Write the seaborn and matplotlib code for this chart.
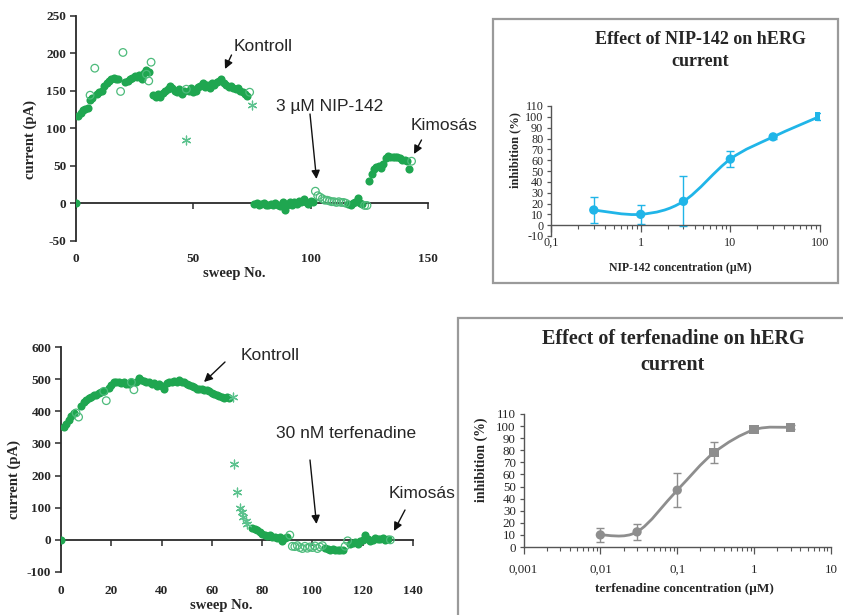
import numpy as np
import matplotlib
matplotlib.use("Agg")
import matplotlib.pyplot as plt
from matplotlib.path import Path
from matplotlib.patches import PathPatch, Rectangle
from matplotlib.ticker import NullFormatter
import seaborn as sns

# ---------------- data ----------------
# Top-left: NIP-142 experiment (sweep number vs current, pA)
tl_fill_x = [0, 1, 2, 3, 4, 5, 6, 7, 9, 10, 11, 12, 13, 14, 15, 16, 17, 18,
             21, 22, 23, 24, 25, 26, 27, 28, 29, 30, 31,
             33, 34, 35, 36, 37, 38, 39, 40, 41, 42, 43, 44, 45, 46, 48, 49, 50,
             51, 52, 53, 54, 55, 56, 57, 58, 59, 60, 61, 62, 63, 64, 65, 66, 67,
             68, 69, 70, 71, 72, 73,
             76, 77, 78, 79, 80, 81, 82, 83, 84, 85, 86, 87, 88, 89, 90, 91, 92,
             93, 94, 95, 96, 97, 98, 99, 100, 101, 116, 117, 118, 119, 120, 121, 122,
             125, 126, 127, 128, 129, 130, 131, 132, 133, 134, 135, 136, 137, 138,
             139, 140, 141, 142]
tl_fill_y = [0, 116, 120, 124, 126, 127, 137, 140, 145, 148, 150, 156, 160, 163, 166, 167, 165, 166,
             162, 163, 165, 167, 170, 168, 171, 165, 173, 177, 175,
             144, 142, 145, 141, 147, 150, 152, 156, 153, 150, 148, 152, 146, 150, 150, 153, 148,
             150, 155, 156, 160, 155, 158, 153, 160, 157, 161, 163, 165, 160, 158, 155, 156, 153,
             152, 153, 150, 148, 145, 143,
             -1, 0, -2, -1, 0, -2, -3, -1, -2, 0, -2, -4, 1, -9, -3, 1, -2,
             2, -1, 3, 1, 6, 2, -1, 3, 1, -1, -2, 0, 2, 7, 0, -1,
             29, 39, 45, 48, 50, 47, 52, 60, 63, 61, 62, 61, 62, 60,
             58, 57, 56, 46]
tl_open_x = [6, 8, 19, 20, 30, 31, 32, 47, 74, 102, 103, 104, 105, 106, 107, 108, 109,
             110, 111, 112, 113, 114, 115, 123, 124, 143]
tl_open_y = [144, 180, 149, 201, 172, 163, 188, 152, 148, 16, 10, 8, 6, 4, 4, 3, 2,
             2, 1, 2, 1, 1, 0, -3, -3, 56]
tl_star_x = [47, 75]
tl_star_y = [84, 131]

# Bottom-left: terfenadine experiment
bl_fill_x = [0, 1, 2, 3, 4, 5, 8, 9, 10, 11, 12, 13, 14, 15, 16, 17, 19, 20, 21, 22, 23,
             24, 25, 26, 27, 28, 30, 31, 32, 33, 34, 35, 36, 37, 38, 39, 40, 41, 42, 43,
             44, 45, 46, 47, 48, 49, 50, 51, 52, 53, 54, 55, 56, 57, 58, 59, 60, 61, 62,
             63, 64, 65, 66, 67,
             76, 77, 78, 79, 80, 81, 82, 83, 84, 85, 86, 87, 88, 89, 90,
             105, 106, 107, 108, 109, 110, 111, 112,
             115, 116, 117, 118, 119, 120, 121, 122, 123, 124, 125, 126, 127, 128, 129, 130]
bl_fill_y = [0, 350, 360, 372, 385, 395, 418, 428, 435, 440, 445, 450, 452, 456, 460, 462, 472, 482, 492, 490, 492,
             488, 490, 486, 485, 490, 492, 505, 498, 495, 490, 492, 485, 488, 480, 485, 478, 468, 488, 492,
             490, 494, 492, 498, 492, 490, 486, 482, 480, 475, 470, 468, 470, 465, 466, 462, 458, 455, 452,
             448, 445, 440, 445, 442,
             38, 35, 30, 25, 18, 15, 12, 14, 8, 10, 5, 8, -3, 6, 10,
             -26, -28, -30, -29, -30, -31, -33, -30,
             -12, -10, -6, -12, -4, 0, 16, 2, -2, 0, 5, 3, 2, 6, 1, 3]
bl_open_x = [6, 7, 17, 18, 28, 29, 91, 92, 93, 94, 95, 96, 97, 98, 99, 100, 101, 102,
             103, 104, 113, 114, 131]
bl_open_y = [395, 382, 462, 433, 490, 467, 15, -20, -21, -18, -24, -27, -20, -26, -22, -24, -19, -27,
             -22, -18, -20, -3, 0]
bl_star_x = [68.5, 69, 70, 71, 72, 72.5, 73.5, 74]
bl_star_y = [444, 236, 148, 99, 88, 72, 60, 50]

# Dose-response curves
nip_conc = [0.3, 1, 3, 10, 30, 100]
nip_inh = [14, 10, 22, 61, 81.5, 100.5]
nip_err = [12, 9, 23, 7.5, 2, 3]
nip_mark = ["o", "o", "o", "o", "o", "s"]

terf_conc = [0.01, 0.03, 0.1, 0.3, 1, 3]
terf_inh = [10, 12.5, 47, 78, 97, 99]
terf_err = [6, 6.3, 14, 8.5, 1.5, 1.5]
terf_mark = ["o", "o", "o", "s", "s", "s"]

tl_xticks = [0, 50, 100, 150]
tl_yticks = [-50, 0, 50, 100, 150, 200, 250]
bl_xticks = [0, 20, 40, 60, 80, 100, 120, 140]
bl_yticks = [-100, 0, 100, 200, 300, 400, 500, 600]
nip_xticks = [0.1, 1, 10, 100]
nip_xlabels = ["0,1", "1", "10", "100"]
nip_yticks = list(range(-10, 111, 10))
terf_xticks = [0.001, 0.01, 0.1, 1, 10]
terf_xlabels = ["0,001", "0,01", "0,1", "1", "10"]
terf_yticks = list(range(0, 111, 10))

# ---------------- style ----------------
sns.set_style("white")
plt.rcParams["font.family"] = ["Liberation Serif", "DejaVu Serif"]
SANS = ["Liberation Sans", "DejaVu Sans"]
G_FILL = "#1fa650"
G_OPEN = "#4dbb7b"
G_STAR = "#5cc28e"
CYAN = "#20b5e8"
GRAY = "#8e8e8e"

W, H = 843, 615
fig = plt.figure(figsize=(W / 100, H / 100), dpi=100)
fig.patch.set_facecolor("white")


def add_ax(x0, y0, x1, y1):
    return fig.add_axes([x0 / W, 1 - y1 / H, (x1 - x0) / W, (y1 - y0) / H])


def fx(x):
    return x / W


def fy(y):
    return 1 - y / H


def smooth_path(xs, ys):
    lx = np.log10(np.asarray(xs, float))
    p = np.column_stack([lx, np.asarray(ys, float)])
    n = len(p)
    verts = [p[0]]
    codes = [Path.MOVETO]
    for i in range(n - 1):
        p0 = p[i - 1] if i > 0 else p[i]
        p1, p2 = p[i], p[i + 1]
        p3 = p[i + 2] if i + 2 < n else p[i + 1]
        verts += [p1 + (p2 - p0) / 6, p2 - (p3 - p1) / 6, p2]
        codes += [Path.CURVE4] * 3
    v = np.array(verts)
    v[:, 0] = 10 ** v[:, 0]
    return Path(v, codes)


def sweep_axes(ax, xs_fill, ys_fill, xs_open, ys_open, xs_star, ys_star,
               xlim, ylim, xticks, yticks, lab_coords):
    sns.scatterplot(x=xs_fill, y=ys_fill, ax=ax, color=G_FILL, s=34, linewidth=0, marker="o", zorder=3)
    sns.scatterplot(x=xs_open, y=ys_open, ax=ax, s=30, marker="o", facecolor="none",
                    edgecolor=G_OPEN, linewidth=0.9, zorder=3)
    sns.scatterplot(x=xs_star, y=ys_star, ax=ax, color=G_STAR, s=40, marker=(6, 2, 0),
                    linewidth=0.9, zorder=3)
    ax.set_xlim(*xlim)
    ax.set_ylim(*ylim)
    for side in ["top", "right"]:
        ax.spines[side].set_visible(False)
    ax.spines["bottom"].set_position(("data", 0))
    for side in ["bottom", "left"]:
        ax.spines[side].set_color("#2a2a2a")
        ax.spines[side].set_linewidth(1.3)
    ax.set_yticks(yticks, labels=[str(t) for t in yticks], fontsize=9.5, fontweight="bold")
    ax.set_xticks(xticks)
    ax.tick_params(axis="x", labelbottom=False, direction="out", length=4, width=1.1, color="#2a2a2a")
    ax.tick_params(axis="y", direction="out", length=4, width=1.1, color="#2a2a2a", pad=3)
    ax.tick_params(left=True, bottom=True)
    sec = ax.secondary_xaxis("bottom")
    sec.spines["bottom"].set_visible(False)
    sec.set_xticks(xticks, labels=[str(t) for t in xticks], fontsize=9.5, fontweight="bold")
    sec.tick_params(length=0, pad=9)
    ax.set_ylabel("current (pA)", fontsize=10.5, fontweight="bold")
    ax.yaxis.set_label_coords(*lab_coords[0])
    ax.set_xlabel("sweep No.", fontsize=10.5, fontweight="bold")
    ax.xaxis.set_label_coords(*lab_coords[1])
    ax.set_facecolor("none")


# ---------------- top-left ----------------
ax1 = add_ax(76, 15.7, 428, 240.7)
sweep_axes(ax1, tl_fill_x, tl_fill_y, tl_open_x, tl_open_y, tl_star_x, tl_star_y,
           (0, 150), (-50, 250), tl_xticks, tl_yticks,
           ((-0.11, 0.45), (0.45, -0.115)))

# ---------------- bottom-left ----------------
ax3 = add_ax(61, 347, 413, 572)
sweep_axes(ax3, bl_fill_x, bl_fill_y, bl_open_x, bl_open_y, bl_star_x, bl_star_y,
           (0, 140), (-100, 600), bl_xticks, bl_yticks,
           ((-0.115, 0.41), (0.456, -0.118)))

# annotations (text + arrows)
def note(text, x, y):
    fig.text(fx(x), fy(y), text, family=SANS, fontsize=12.5, ha="left", va="center")


def arrow(x0, y0, x1, y1):
    fig.add_artist(matplotlib.patches.FancyArrowPatch(
        (fx(x0), fy(y0)), (fx(x1), fy(y1)), transform=fig.transFigure,
        arrowstyle="-|>,head_length=5,head_width=2.5", color="#111111", lw=1.0,
        shrinkA=0, shrinkB=0))


note("Kontroll", 234, 46.5)
arrow(231.5, 55, 225, 69)
note("3 \u00b5M NIP-142", 276, 106)
arrow(310, 114, 316.5, 179)
note("Kimos\u00e1s", 411, 125)
arrow(421.5, 140, 414, 154)

note("Kontroll", 241, 355)
arrow(225, 362, 204, 382)
note("30 nM terfenadine", 276, 433)
arrow(310, 460, 316.5, 524)
note("Kimos\u00e1s", 389, 493)
arrow(405, 510, 394, 531)

# ---------------- boxes ----------------
fig.add_artist(Rectangle((fx(493), fy(283)), fx(838) - fx(493), fy(19) - fy(283),
                         transform=fig.transFigure, fill=False, ec="#9a9a9a", lw=1.6))
fig.add_artist(Rectangle((fx(458), fy(640)), fx(870) - fx(458), fy(318) - fy(640),
                         transform=fig.transFigure, fill=False, ec="#9a9a9a", lw=1.6,
                         clip_on=False))


def dose_axes(ax, conc, inh, err, marks, color, xlim, ylim, xticks, xlabels, yticks,
              xlabel, tick_fs, lab_fs, zero_axis, lab_coords):
    ax.set_xscale("log")
    ax.add_patch(PathPatch(smooth_path(conc, inh), fill=False, ec=color, lw=2.0, zorder=2))
    ax.errorbar(conc, inh, yerr=err, fmt="none", ecolor=color, elinewidth=1.0, capsize=3,
                capthick=1.0, zorder=2)
    sns.scatterplot(x=conc, y=inh, style=marks, markers={"o": "o", "s": "s"}, ax=ax,
                    color=color, s=45, linewidth=0, legend=False, zorder=3)
    ax.set_xlim(*xlim)
    ax.set_ylim(*ylim)
    for side in ["top", "right"]:
        ax.spines[side].set_visible(False)
    for side in ["bottom", "left"]:
        ax.spines[side].set_color("#555555")
        ax.spines[side].set_linewidth(1.0)
    ax.set_yticks(yticks, labels=[str(t) for t in yticks], fontsize=tick_fs)
    ax.tick_params(axis="y", direction="out", length=3, width=0.9, color="#555555", pad=2.5, left=True)
    ax.tick_params(axis="x", which="both", direction="out", color="#555555", bottom=True)
    ax.tick_params(axis="x", which="major", length=5, width=0.9)
    ax.tick_params(axis="x", which="minor", length=3, width=0.8)
    ax.set_ylabel("inhibition (%)", fontsize=lab_fs, fontweight="bold")
    ax.yaxis.set_label_coords(*lab_coords[0])
    if zero_axis:
        ax.spines["bottom"].set_position(("data", 0))
        ax.set_xticks(xticks)
        ax.xaxis.set_minor_formatter(NullFormatter())
        ax.tick_params(axis="x", which="both", labelbottom=False)
        sec = ax.secondary_xaxis("bottom")
        sec.spines["bottom"].set_visible(False)
        sec.set_xticks(xticks, labels=xlabels, fontsize=tick_fs)
        sec.xaxis.set_minor_formatter(NullFormatter())
        sec.tick_params(which="both", length=0, pad=0.5)
    else:
        ax.set_xticks(xticks, labels=xlabels, fontsize=tick_fs)
        ax.xaxis.set_minor_formatter(NullFormatter())
        ax.tick_params(axis="x", which="major", pad=7)
    ax.set_xlabel(xlabel, fontsize=lab_fs - 0.5, fontweight="bold")
    ax.xaxis.set_label_coords(*lab_coords[1])
    ax.set_facecolor("none")


# ---------------- top-right ----------------
ax2 = add_ax(551, 106, 820, 236)
dose_axes(ax2, nip_conc, nip_inh, nip_err, nip_mark, CYAN, (0.1, 100), (-10, 110),
          nip_xticks, nip_xlabels, nip_yticks, "NIP-142 concentration (\u00b5M)",
          8.7, 9.0, True, ((-0.11, 0.66), (0.48, -0.2)))
fig.text(fx(700), fy(50.5), "Effect of NIP-142 on hERG\ncurrent", ha="center", va="center",
         fontsize=13, fontweight="bold", linespacing=1.35)

# ---------------- bottom-right ----------------
ax4 = add_ax(523.5, 414, 831, 547)
dose_axes(ax4, terf_conc, terf_inh, terf_err, terf_mark, GRAY, (0.001, 10), (0, 110),
          terf_xticks, terf_xlabels, terf_yticks, "terfenadine concentration (\u00b5M)",
          9.4, 10.0, False, ((-0.115, 0.656), (0.522, -0.27)))
fig.text(fx(673), fy(352), "Effect of terfenadine on hERG\ncurrent", ha="center", va="center",
         fontsize=14.5, fontweight="bold", linespacing=1.35)

fig.savefig("out.png", dpi=100, facecolor="white")
